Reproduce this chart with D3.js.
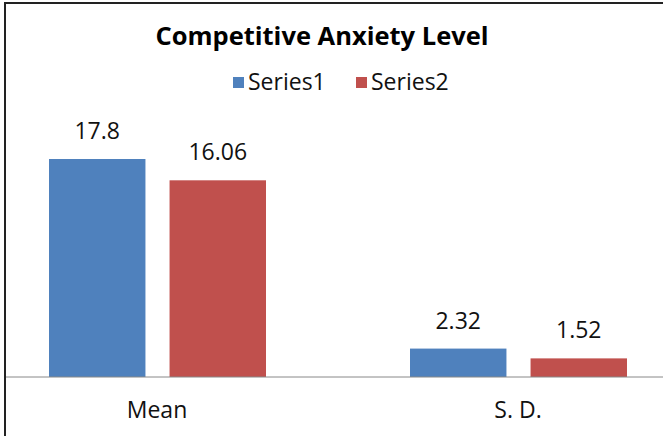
<!DOCTYPE html>
<html>
  <head>
    <style>
    body { margin: 0; background: #fff; }
    svg { display: block; font-family: "Open Sans", Lato, sans-serif; font-variant-ligatures: none; }
    </style>
    <script src="https://d3js.org/d3.v7.min.js"></script>
  </head>
  <body>
    <script type="text/javascript">
    var categories = ["Mean", "S. D."];
    var seriesNames = ["Series1", "Series2"];
    var series1 = [17.8, 2.32];
    var series2 = [16.06, 1.52];
    var valueLabels = [["17.8", "16.06"], ["2.32", "1.52"]];

    var width = 663, height = 436;
    var baseY = 377;

    var svg = d3.select("body")
      .append("svg")
      .attr("width", width)
      .attr("height", height);

    svg.append("rect")
      .attr("width", width).attr("height", height)
      .attr("fill", "#fff");

    // chart frame (cropped on right and bottom)
    svg.append("rect")
      .attr("x", 5).attr("y", 3)
      .attr("width", width + 10).attr("height", height + 10)
      .attr("fill", "none")
      .attr("stroke", "#222")
      .attr("stroke-width", 2);

    var xScale = d3.scaleBand()
      .domain(categories)
      .range([-23.5, 698.5]);

    var xScale2 = d3.scaleBand()
      .domain(seriesNames)
      .range([72.5, 289.5])
      .paddingInner(0.2);

    var yScale = d3.scaleLinear()
      .domain([0, 17.8])
      .range([baseY, 159]);

    var color = d3.scaleOrdinal()
      .domain(seriesNames)
      .range(["#4F81BD", "#C0504D"]);

    var data = categories.map(function(c, i) {
      return {
        cat: c,
        values: [
          {type: "Series1", value: series1[i], label: valueLabels[i][0]},
          {type: "Series2", value: series2[i], label: valueLabels[i][1]}
        ]
      };
    });

    // title
    svg.append("text")
      .attr("x", 322).attr("y", 45)
      .attr("text-anchor", "middle")
      .style("font-size", "25.5px")
      .style("font-weight", "bold")
      .attr("fill", "#000")
      .text("Competitive Anxiety Level");

    // legend
    var legendX = [233, 356];
    seriesNames.forEach(function(s, i) {
      svg.append("rect")
        .attr("x", legendX[i]).attr("y", 77)
        .attr("width", 11).attr("height", 11)
        .attr("fill", color(s));
      svg.append("text")
        .attr("x", legendX[i] + 15).attr("y", 90)
        .style("font-size", "23px")
        .attr("fill", "#111")
        .text(s);
    });

    var slice = svg.selectAll(".slice")
      .data(data)
      .enter().append("g")
      .attr("class", "slice")
      .attr("transform", function(d) { return "translate(" + xScale(d.cat) + ",0)"; });

    slice.selectAll("rect")
      .data(function(d) { return d.values; })
      .enter().append("rect")
      .attr("x", function(d) { return xScale2(d.type); })
      .attr("width", xScale2.bandwidth())
      .attr("y", function(d) { return yScale(d.value); })
      .attr("height", function(d) { return baseY - yScale(d.value); })
      .attr("fill", function(d) { return color(d.type); });

    slice.selectAll("text")
      .data(function(d) { return d.values; })
      .enter().append("text")
      .attr("x", function(d) { return xScale2(d.type) + xScale2.bandwidth() / 2; })
      .attr("y", function(d) { return yScale(d.value) - 20; })
      .attr("text-anchor", "middle")
      .style("font-size", "23px")
      .attr("fill", "#111")
      .text(function(d) { return d.label; });

    // x axis
    var xAxis = svg.append("g")
      .attr("transform", "translate(0," + baseY + ")")
      .call(d3.axisBottom(xScale).tickSize(0).tickPadding(25));
    xAxis.select(".domain").attr("stroke", "#888").attr("d", "M6,0H" + width);
    xAxis.selectAll("text")
      .style("font-size", "23px")
      .style("font-family", "'Open Sans', Lato, sans-serif")
      .attr("fill", "#111");
    </script>
  </body>
</html>
